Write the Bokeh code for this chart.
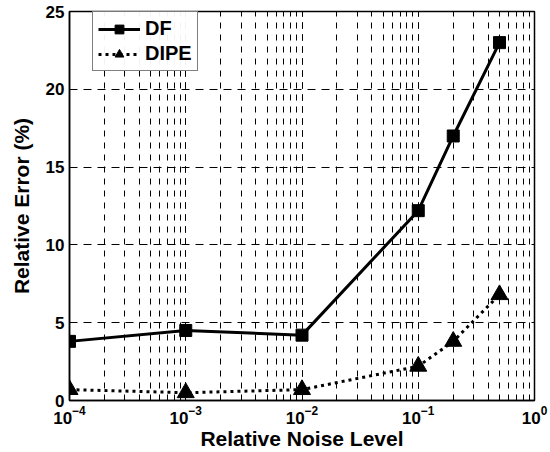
from bokeh.plotting import figure
from bokeh.models import ColumnDataSource, Legend, LegendItem, FixedTicker, LogTicker
from bokeh.embed import file_html
from bokeh.resources import INLINE

noise = [1e-4, 1e-3, 1e-2, 1e-1, 0.2, 0.5]
df_err = [3.8, 4.5, 4.2, 12.2, 17.0, 23.0]
dipe_err = [0.7, 0.5, 0.7, 2.2, 3.8, 6.8]
y_ticks = [0, 5, 10, 15, 20, 25]

FONT = "Liberation Sans"

p = figure(width=550, height=452, x_axis_type="log", x_range=(1e-4, 1), y_range=(0, 25),
           output_backend="svg", toolbar_location=None,
           min_border_left=69, min_border_right=16, min_border_top=11, min_border_bottom=51)
p.outline_line_color = "black"
p.outline_line_width = 1.5

src = ColumnDataSource(dict(x=noise, df=df_err, dipe=dipe_err))
l1 = p.line("x", "df", source=src, line_color="black", line_width=3)
m1 = p.scatter("x", "df", source=src, marker="square", size=12, color="black")
l2 = p.line("x", "dipe", source=src, line_color="black", line_width=3, line_dash="3 4")
m2 = p.scatter("x", "dipe", source=src, marker="triangle", size=17, color="black")

xa = p.xaxis[0]
ya = p.yaxis[0]
xa.ticker = LogTicker(num_minor_ticks=10)
ya.ticker = FixedTicker(ticks=y_ticks)

for ax in (xa, ya):
    ax.major_tick_in = 6
    ax.major_tick_out = 0
    ax.minor_tick_in = 3
    ax.minor_tick_out = 0
    ax.axis_line_width = 1.5
    ax.axis_line_color = "black"
    ax.major_tick_line_color = "black"
    ax.major_label_text_font = FONT
    ax.major_label_text_font_style = "bold"
    ax.major_label_text_font_size = "17px"
    ax.major_label_text_color = "black"
    ax.axis_label_text_font = FONT
    ax.axis_label_text_font_style = "bold"
    ax.axis_label_text_font_size = "21px"
    ax.axis_label_text_color = "black"
ya.minor_tick_line_color = None
xa.axis_label = "Relative Noise Level"
ya.axis_label = "Relative Error (%)"
xa.axis_label_standoff = 0
ya.axis_label_standoff = 10
xa.major_label_standoff = 5
ya.major_label_standoff = 5

p.xgrid.grid_line_color = "black"
p.xgrid.grid_line_dash = "6 6"
p.xgrid.grid_line_width = 1
p.xgrid.minor_grid_line_color = "black"
p.xgrid.minor_grid_line_dash = "6 6"
p.ygrid.grid_line_color = "black"
p.ygrid.grid_line_dash = "8 6"

legend = Legend(items=[LegendItem(label="DF", renderers=[l1, m1]),
                       LegendItem(label="DIPE", renderers=[l2, m2])],
                location=(23, 329))
legend.label_text_font = FONT
legend.label_text_font_style = "bold"
legend.label_text_font_size = "20px"
legend.label_text_color = "black"
legend.label_height = 22
legend.border_line_color = "black"
legend.border_line_width = 1.5
legend.glyph_width = 42
legend.glyph_height = 22
legend.margin = 0
legend.padding = 5
legend.spacing = 2
legend.label_standoff = 5
p.add_layout(legend)

open("out.html", "w").write(file_html(p, INLINE))
